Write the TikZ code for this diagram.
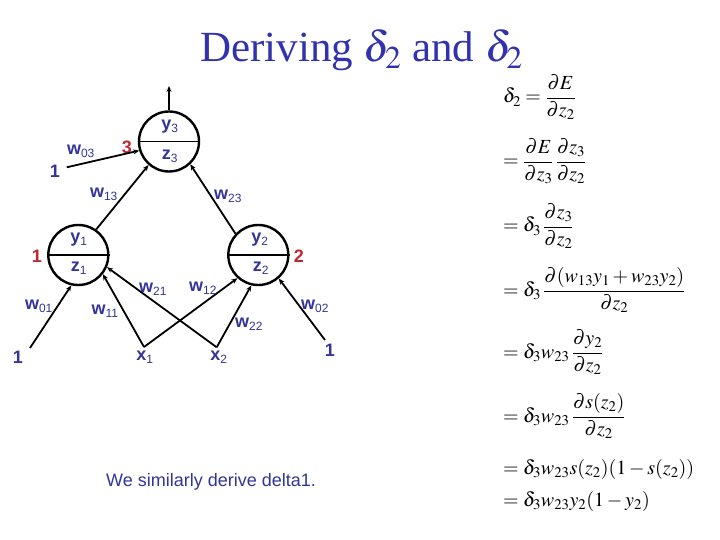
\documentclass[tikz,border=0pt]{standalone}
\usepackage{amsmath}
\usepackage{mathptmx}
\usepackage[no-math]{fontspec}
\setmainfont{Liberation Sans}
\newfontfamily\titlefont{Liberation Serif}
\usetikzlibrary{arrows.meta}
\definecolor{lblue}{RGB}{51,51,153}
\definecolor{tblue}{RGB}{50,50,175}
\definecolor{lred}{RGB}{190,40,50}
\tikzset{
  neuron/.style={circle,draw=black,line width=2.4pt,minimum size=60pt,inner sep=0pt},
  conn/.style={line width=1.8pt,-{Stealth[length=6pt,width=5pt]}},
  lbl/.style={text=lblue,font=\fontsize{18}{20}\selectfont\bfseries,inner sep=0pt},
  rlbl/.style={text=lred,font=\fontsize{18}{20}\selectfont\bfseries,inner sep=0pt},
  eqn/.style={anchor=base west,inner sep=0pt,font=\fontsize{20}{24}\selectfont}
}
\newcommand{\sbs}[1]{\textsubscript{\fontsize{12}{13}\selectfont\mdseries #1}}
\begin{document}
\begin{tikzpicture}[x=1pt,y=-1pt]
\useasboundingbox (0,0) rectangle (720,540);
% title
\node[anchor=base west,inner sep=0pt,text=tblue,font=\titlefont\fontsize{43}{50}\selectfont] (title) at (200,62) {Deriving $\delta_2$ and $\delta_2$};
% neurons
\node[neuron] (n3) at (169,141.5) {};
\node[neuron] (n1) at (78.3,255) {};
\node[neuron] (n2) at (258.3,255) {};
\foreach \n in {n1,n2,n3} \draw[line width=1.2pt] (\n.west) -- (\n.east);
% texts inside
\node[lbl] (ty3) at (170,127) {y\sbs{3}};
\node[lbl] (tz3) at (170,156) {z\sbs{3}};
\node[lbl] (ty1) at (79,240) {y\sbs{1}};
\node[lbl] (tz1) at (79,268) {z\sbs{1}};
\node[lbl] (ty2) at (260,240) {y\sbs{2}};
\node[lbl] (tz2) at (261,268) {z\sbs{2}};
% red numbers
\node[rlbl] (r3) at (127,147) {3};
\node[rlbl] (r1) at (37,256) {1};
\node[rlbl] (r2) at (299,256) {2};
% free ends
\coordinate (out) at (169,86);
\coordinate (i03) at (66.7,167.3);
\coordinate (i01) at (30,348);
\coordinate (i02) at (325,340);
\coordinate (x1) at (144,347);
\coordinate (x2) at (216.7,347.3);
% connectors
\draw[conn] (n3.north) -- (out);
\draw[conn] (i03) -- (n3.-163);
\draw[conn] (n1.55) -- (n3.-131);
\draw[conn] (n2.137) -- (n3.-47);
\draw[conn] (i01) -- (n1.-103);
\draw[conn] (x1) -- (n1.-38);
\draw[conn] (x2) -- (n1.-23);
\draw[conn] (x1) -- (n2.-132);
\draw[conn] (x2) -- (n2.-103);
\draw[conn] (i02) -- (n2.-49);
% input labels
\node[lbl] (one03) at (55,171) {1};
\node[lbl] (one01) at (18,357) {1};
\node[lbl] (one02) at (330,350) {1};
\node[lbl] (tx1) at (145,357) {x\sbs{1}};
\node[lbl] (tx2) at (219,357) {x\sbs{2}};
% weights
\node[lbl] (w03) at (81,151) {w\sbs{03}};
\node[lbl] (w13) at (104,194) {w\sbs{13}};
\node[lbl] (w23) at (228,196) {w\sbs{23}};
\node[lbl] (w01) at (39,306) {w\sbs{01}};
\node[lbl] (w11) at (105,311) {w\sbs{11}};
\node[lbl] (w21) at (153,289) {w\sbs{21}};
\node[lbl] (w12) at (203,288) {w\sbs{12}};
\node[lbl] (w22) at (249,324) {w\sbs{22}};
\node[lbl] (w02) at (315,306) {w\sbs{02}};
% bottom text
\node[text=lblue,inner sep=0pt,font=\fontsize{18}{20}\selectfont] (note) at (211,482) {We similarly derive delta1.};
% equations
\node[eqn] (e1) at (503,103) {$\delta_2 = \dfrac{\partial E}{\partial z_2}$};
\node[eqn] (e2) at (503,167) {$= \dfrac{\partial E}{\partial z_3}\,\dfrac{\partial z_3}{\partial z_2}$};
\node[eqn] (e3) at (503,232) {$= \delta_3\,\dfrac{\partial z_3}{\partial z_2}$};
\node[eqn] (e4) at (503,296) {$= \delta_3\,\dfrac{\partial (w_{13}y_1 + w_{23}y_2)}{\partial z_2}$};
\node[eqn] (e5) at (503,358) {$= \delta_3 w_{23}\,\dfrac{\partial y_2}{\partial z_2}$};
\node[eqn] (e6) at (503,422) {$= \delta_3 w_{23}\,\dfrac{\partial s(z_2)}{\partial z_2}$};
\node[eqn] (e7) at (503,474) {$= \delta_3 w_{23} s(z_2)(1 - s(z_2))$};
\node[eqn] (e8) at (503,506) {$= \delta_3 w_{23} y_2(1 - y_2)$};
\end{tikzpicture}
\end{document}
